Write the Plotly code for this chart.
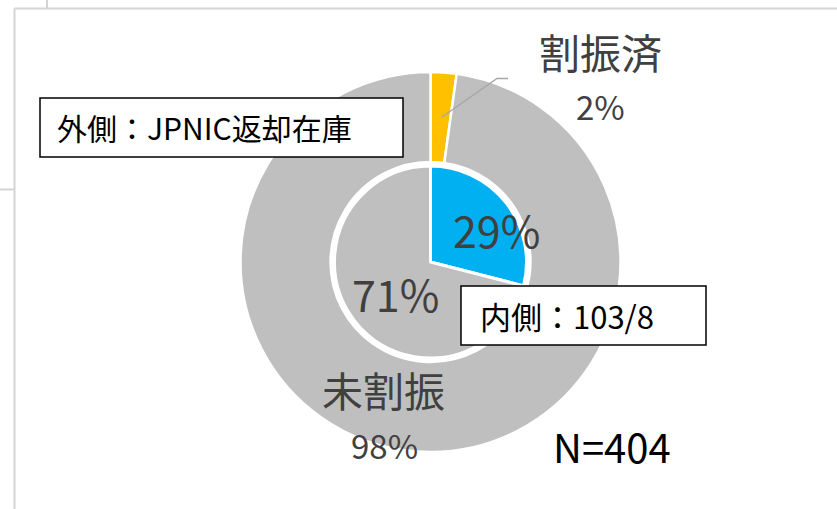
import plotly.graph_objects as go

# ---- data ----
outer_labels = ["割振済", "未割振"]
outer_values = [2.2, 97.8]
outer_colors = ["#FFC000", "#BFBFBF"]

inner_labels = ["割振済", "未割振"]
inner_values = [29, 71]
inner_colors = ["#00B0F0", "#BFBFBF"]

outer_title = "外側：JPNIC返却在庫"
inner_title = "内側：103/8"
n_text = "N=404"

W, H = 837, 509
FONT = "Noto Sans CJK JP, Noto Sans, sans-serif"
TXT = "#404040"


def px(x):
    return x / W


def py(y):
    return 1 - y / H


def pct(vals, i):
    return f"{round(vals[i] / sum(vals) * 100)}%"


fig = go.Figure()

# outer donut
fig.add_trace(go.Pie(
    labels=outer_labels, values=outer_values, sort=False,
    direction="clockwise", rotation=0, hole=0.526,
    marker=dict(colors=outer_colors, line=dict(color="white", width=2.5)),
    textinfo="none", hoverinfo="label+percent",
    domain=dict(x=[px(240.5), px(620.5)], y=[py(452), py(72)]),
    showlegend=False,
))

# inner pie
fig.add_trace(go.Pie(
    labels=inner_labels, values=inner_values, sort=False,
    direction="clockwise", rotation=0,
    marker=dict(colors=inner_colors, line=dict(color="white", width=3)),
    textinfo="none", hoverinfo="label+percent",
    domain=dict(x=[px(334.5), px(526.5)], y=[py(358), py(166)]),
    showlegend=False,
))

shapes = []
# frame lines (spreadsheet frame)
gray = "#D4D4D4"
shapes.append(dict(type="line", xref="paper", yref="paper", x0=px(14.5), x1=px(14.5), y0=py(8.5), y1=py(509), line=dict(color=gray, width=2)))
shapes.append(dict(type="line", xref="paper", yref="paper", x0=px(14.5), x1=1, y0=py(8.5), y1=py(8.5), line=dict(color=gray, width=2)))
shapes.append(dict(type="line", xref="paper", yref="paper", x0=px(47), x1=px(47), y0=py(0), y1=py(8.5), line=dict(color=gray, width=2)))
shapes.append(dict(type="line", xref="paper", yref="paper", x0=0, x1=px(14.5), y0=py(189.5), y1=py(189.5), line=dict(color=gray, width=2)))

# leader line for small slice
shapes.append(dict(type="path", xref="paper", yref="paper",
                   path=f"M {px(442)},{py(117)} L {px(497)},{py(78.5)} L {px(508)},{py(78.5)}",
                   line=dict(color="#A6A6A6", width=1.3)))

# text boxes
shapes.append(dict(type="rect", xref="paper", yref="paper", x0=px(40), x1=px(403), y0=py(157), y1=py(98),
                   fillcolor="white", line=dict(color="black", width=1.5), layer="above"))
shapes.append(dict(type="rect", xref="paper", yref="paper", x0=px(461), x1=px(706), y0=py(345), y1=py(286),
                   fillcolor="white", line=dict(color="black", width=1.5), layer="above"))

ann = []


def add_text(text, x, y, size, color=TXT, xanchor="center"):
    ann.append(dict(text=text, x=px(x), y=py(y), xref="paper", yref="paper",
                    xanchor=xanchor, yanchor="middle", showarrow=False,
                    font=dict(family=FONT, size=size, color=color)))


add_text(outer_labels[0], 600, 51, 41)
add_text(pct(outer_values, 0), 600, 106, 33)
add_text(outer_labels[1], 383, 389, 41)
add_text(pct(outer_values, 1), 384, 445, 33)
add_text(pct(inner_values, 0), 496, 229, 43)
add_text(pct(inner_values, 1), 395, 293, 43)
add_text(outer_title, 55, 127, 30, color="black", xanchor="left")
add_text(inner_title, 478, 315, 31, color="black", xanchor="left")
add_text(n_text, 612, 446, 40, color="black")

fig.update_layout(
    width=W, height=H,
    margin=dict(l=0, r=0, t=0, b=0),
    paper_bgcolor="white", plot_bgcolor="white",
    shapes=shapes, annotations=ann,
    font=dict(family=FONT),
)

fig.write_html("out.html", config={"displayModeBar": False},
               post_script="document.body.style.margin='0';document.body.style.overflow='hidden';")
